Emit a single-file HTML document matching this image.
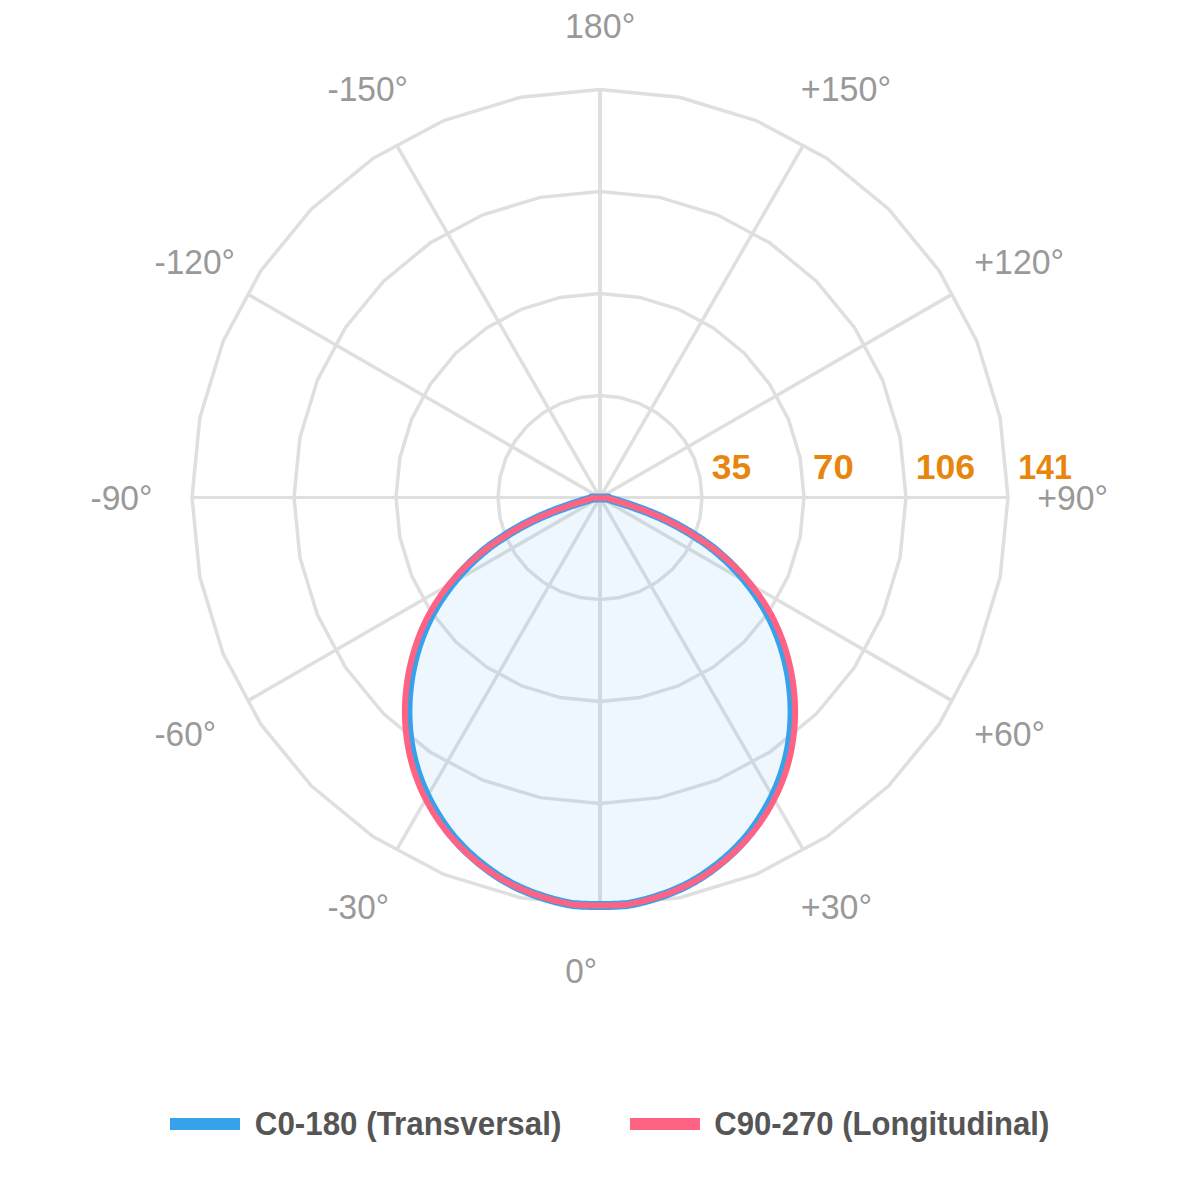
<!DOCTYPE html>
<html><head><meta charset="utf-8"><title>Polar diagram</title>
<style>
html,body{margin:0;padding:0;background:#ffffff;}
body{width:1200px;height:1200px;overflow:hidden;font-family:"Liberation Sans",sans-serif;}
svg{display:block;font-family:"Liberation Sans",sans-serif;}
</style></head><body>
<svg width="1200" height="1200" viewBox="0 0 1200 1200">
<rect width="1200" height="1200" fill="#ffffff"/>
<polygon points="600.00,599.50 619.90,597.54 639.03,591.74 656.67,582.31 672.12,569.62 684.81,554.17 694.24,536.53 700.04,517.40 702.00,497.50 700.04,477.60 694.24,458.47 684.81,440.83 672.12,425.38 656.67,412.69 639.03,403.26 619.90,397.46 600.00,395.50 580.10,397.46 560.97,403.26 543.33,412.69 527.88,425.38 515.19,440.83 505.76,458.47 499.96,477.60 498.00,497.50 499.96,517.40 505.76,536.53 515.19,554.17 527.88,569.62 543.33,582.31 560.97,591.74 580.10,597.54" fill="none" stroke="#dfdfdf" stroke-width="3.5" stroke-linejoin="miter"/>
<polygon points="600.00,701.50 639.80,697.58 678.07,685.97 713.34,667.12 744.25,641.75 769.62,610.84 788.47,575.57 800.08,537.30 804.00,497.50 800.08,457.70 788.47,419.43 769.62,384.16 744.25,353.25 713.34,327.88 678.07,309.03 639.80,297.42 600.00,293.50 560.20,297.42 521.93,309.03 486.66,327.88 455.75,353.25 430.38,384.16 411.53,419.43 399.92,457.70 396.00,497.50 399.92,537.30 411.53,575.57 430.38,610.84 455.75,641.75 486.66,667.12 521.93,685.97 560.20,697.58" fill="none" stroke="#dfdfdf" stroke-width="3.5" stroke-linejoin="miter"/>
<polygon points="600.00,803.50 659.70,797.62 717.10,780.21 770.00,751.93 816.37,713.87 854.43,667.50 882.71,614.60 900.12,557.20 906.00,497.50 900.12,437.80 882.71,380.40 854.43,327.50 816.37,281.13 770.00,243.07 717.10,214.79 659.70,197.38 600.00,191.50 540.30,197.38 482.90,214.79 430.00,243.07 383.63,281.13 345.57,327.50 317.29,380.40 299.88,437.80 294.00,497.50 299.88,557.20 317.29,614.60 345.57,667.50 383.63,713.87 430.00,751.93 482.90,780.21 540.30,797.62" fill="none" stroke="#dfdfdf" stroke-width="3.5" stroke-linejoin="miter"/>
<polygon points="600.00,905.50 679.60,897.66 756.13,874.44 826.67,836.74 888.50,786.00 939.24,724.17 976.94,653.63 1000.16,577.10 1008.00,497.50 1000.16,417.90 976.94,341.37 939.24,270.83 888.50,209.00 826.67,158.26 756.13,120.56 679.60,97.34 600.00,89.50 520.40,97.34 443.87,120.56 373.33,158.26 311.50,209.00 260.76,270.83 223.06,341.37 199.84,417.90 192.00,497.50 199.84,577.10 223.06,653.63 260.76,724.17 311.50,786.00 373.33,836.74 443.87,874.44 520.40,897.66" fill="none" stroke="#dfdfdf" stroke-width="3.5" stroke-linejoin="miter"/>
<line x1="600.0" y1="497.5" x2="600.00" y2="905.50" stroke="#dfdfdf" stroke-width="4"/>
<line x1="600.0" y1="497.5" x2="803.13" y2="849.33" stroke="#dfdfdf" stroke-width="3.5"/>
<line x1="600.0" y1="497.5" x2="951.83" y2="700.63" stroke="#dfdfdf" stroke-width="3.5"/>
<line x1="600.0" y1="497.5" x2="1008.00" y2="497.50" stroke="#dfdfdf" stroke-width="3"/>
<line x1="600.0" y1="497.5" x2="951.83" y2="294.37" stroke="#dfdfdf" stroke-width="3.5"/>
<line x1="600.0" y1="497.5" x2="803.13" y2="145.67" stroke="#dfdfdf" stroke-width="3.5"/>
<line x1="600.0" y1="497.5" x2="600.00" y2="89.50" stroke="#dfdfdf" stroke-width="4"/>
<line x1="600.0" y1="497.5" x2="396.87" y2="145.67" stroke="#dfdfdf" stroke-width="3.5"/>
<line x1="600.0" y1="497.5" x2="248.17" y2="294.37" stroke="#dfdfdf" stroke-width="3.5"/>
<line x1="600.0" y1="497.5" x2="192.00" y2="497.50" stroke="#dfdfdf" stroke-width="3"/>
<line x1="600.0" y1="497.5" x2="248.17" y2="700.63" stroke="#dfdfdf" stroke-width="3.5"/>
<line x1="600.0" y1="497.5" x2="396.87" y2="849.33" stroke="#dfdfdf" stroke-width="3.5"/>
<path d="M600.00,905.44 L599.72,905.45 L597.50,905.49 L595.28,905.50 L593.06,905.49 L590.84,905.46 L588.62,905.41 L586.39,905.33 L584.17,905.23 L581.94,905.13 L579.72,905.00 L577.49,904.85 L575.27,904.66 L573.05,904.43 L570.83,904.15 L568.63,903.80 L566.44,903.38 L564.25,902.92 L562.08,902.42 L559.91,901.89 L557.75,901.35 L555.59,900.80 L553.44,900.23 L551.29,899.63 L549.16,899.00 L547.03,898.36 L544.91,897.69 L542.79,897.02 L540.68,896.32 L538.57,895.62 L536.47,894.90 L534.38,894.17 L532.30,893.40 L530.22,892.62 L528.16,891.80 L526.11,890.96 L524.07,890.10 L522.04,889.21 L520.02,888.30 L518.01,887.36 L516.02,886.40 L514.04,885.41 L512.07,884.41 L510.11,883.38 L508.16,882.32 L506.23,881.25 L504.32,880.15 L502.41,879.02 L500.53,877.88 L498.65,876.70 L496.80,875.51 L494.96,874.29 L493.13,873.05 L491.32,871.78 L489.53,870.50 L487.75,869.20 L485.98,867.87 L484.23,866.53 L482.49,865.17 L480.77,863.80 L479.06,862.40 L477.37,860.99 L475.69,859.57 L474.02,858.13 L472.37,856.67 L470.73,855.20 L469.10,853.71 L467.50,852.20 L465.91,850.67 L464.33,849.13 L462.78,847.57 L461.24,845.99 L459.72,844.40 L458.22,842.78 L456.73,841.15 L455.27,839.50 L453.83,837.83 L452.42,836.14 L451.03,834.43 L449.67,832.71 L448.33,830.96 L447.01,829.20 L445.72,827.42 L444.44,825.62 L443.19,823.81 L441.96,821.99 L440.75,820.16 L439.56,818.31 L438.39,816.46 L437.23,814.59 L436.09,812.71 L434.97,810.83 L433.86,808.94 L432.77,807.04 L431.70,805.12 L430.66,803.20 L429.64,801.26 L428.63,799.31 L427.65,797.36 L426.70,795.39 L425.76,793.41 L424.85,791.42 L423.96,789.42 L423.09,787.42 L422.25,785.40 L421.42,783.37 L420.63,781.34 L419.85,779.29 L419.10,777.24 L418.38,775.18 L417.67,773.11 L417.00,771.03 L416.34,768.95 L415.72,766.85 L415.11,764.75 L414.53,762.65 L413.98,760.53 L413.45,758.41 L412.94,756.28 L412.46,754.15 L412.00,752.01 L411.57,749.87 L411.16,747.71 L410.78,745.56 L410.42,743.40 L410.08,741.23 L409.77,739.06 L409.49,736.89 L409.22,734.71 L408.99,732.53 L408.77,730.35 L408.59,728.16 L408.42,725.97 L408.28,723.78 L408.16,721.58 L408.07,719.39 L408.00,717.19 L407.95,714.99 L407.93,712.80 L407.93,710.60 L407.96,708.40 L408.00,706.20 L408.08,704.00 L408.17,701.80 L408.29,699.60 L408.42,697.41 L408.59,695.21 L408.77,693.02 L408.98,690.82 L409.21,688.63 L409.46,686.45 L409.73,684.26 L410.03,682.08 L410.35,679.90 L410.69,677.73 L411.06,675.56 L411.44,673.39 L411.86,671.23 L412.29,669.07 L412.74,666.92 L413.22,664.77 L413.71,662.63 L414.23,660.49 L414.77,658.36 L415.33,656.23 L415.91,654.11 L416.51,652.00 L417.14,649.89 L417.78,647.79 L418.45,645.70 L419.14,643.62 L419.85,641.54 L420.59,639.47 L421.34,637.41 L422.12,635.36 L422.92,633.32 L423.74,631.29 L424.58,629.27 L425.44,627.25 L426.33,625.25 L427.24,623.26 L428.18,621.28 L429.13,619.32 L430.11,617.36 L431.11,615.42 L432.14,613.49 L433.19,611.57 L434.26,609.67 L435.35,607.78 L436.47,605.90 L437.60,604.03 L438.76,602.18 L439.94,600.34 L441.13,598.51 L442.35,596.70 L443.59,594.90 L444.85,593.11 L446.12,591.33 L447.42,589.57 L448.73,587.81 L450.06,586.07 L451.40,584.34 L452.77,582.63 L454.15,580.92 L455.55,579.23 L456.96,577.55 L458.39,575.88 L459.84,574.23 L461.31,572.59 L462.79,570.96 L464.29,569.35 L465.82,567.76 L467.36,566.18 L468.93,564.63 L470.51,563.08 L472.10,561.55 L473.70,560.03 L475.32,558.52 L476.95,557.03 L478.60,555.55 L480.27,554.08 L481.95,552.64 L483.65,551.21 L485.37,549.80 L487.10,548.42 L488.86,547.06 L490.64,545.72 L492.44,544.42 L494.26,543.13 L496.09,541.87 L497.92,540.61 L499.77,539.37 L501.62,538.14 L503.49,536.92 L505.36,535.71 L507.24,534.52 L509.13,533.34 L511.03,532.18 L512.94,531.03 L514.86,529.90 L516.79,528.79 L518.73,527.69 L520.68,526.61 L522.64,525.55 L524.61,524.50 L526.58,523.47 L528.57,522.46 L530.56,521.46 L532.56,520.48 L534.57,519.51 L536.58,518.57 L538.60,517.64 L540.63,516.73 L542.67,515.83 L544.71,514.95 L546.76,514.09 L548.82,513.24 L550.88,512.41 L552.94,511.60 L555.02,510.79 L557.09,510.01 L559.17,509.23 L561.25,508.47 L563.34,507.72 L565.43,506.98 L567.52,506.25 L569.62,505.53 L571.72,504.82 L573.82,504.12 L575.92,503.43 L578.02,502.75 L580.12,502.07 L582.23,501.40 L584.33,500.74 L586.43,500.09 L588.54,499.43 L590.64,498.79 L591.60,498.00 L600.00,498.00 L608.40,498.00 L609.36,498.79 L611.46,499.43 L613.57,500.09 L615.67,500.74 L617.77,501.40 L619.88,502.07 L621.98,502.75 L624.08,503.43 L626.18,504.12 L628.28,504.82 L630.38,505.53 L632.48,506.25 L634.57,506.98 L636.66,507.72 L638.75,508.47 L640.83,509.23 L642.91,510.01 L644.98,510.79 L647.06,511.60 L649.12,512.41 L651.18,513.24 L653.24,514.09 L655.29,514.95 L657.33,515.83 L659.37,516.73 L661.40,517.64 L663.42,518.57 L665.43,519.51 L667.44,520.48 L669.44,521.46 L671.43,522.46 L673.42,523.47 L675.39,524.50 L677.36,525.55 L679.32,526.61 L681.27,527.69 L683.21,528.79 L685.14,529.90 L687.06,531.03 L688.97,532.18 L690.87,533.34 L692.76,534.52 L694.64,535.71 L696.51,536.92 L698.38,538.14 L700.23,539.37 L702.08,540.61 L703.91,541.87 L705.74,543.13 L707.56,544.42 L709.36,545.72 L711.14,547.06 L712.90,548.42 L714.63,549.80 L716.35,551.21 L718.05,552.64 L719.73,554.08 L721.40,555.55 L723.05,557.03 L724.68,558.52 L726.30,560.03 L727.90,561.55 L729.49,563.08 L731.07,564.63 L732.64,566.18 L734.18,567.76 L735.71,569.35 L737.21,570.96 L738.69,572.59 L740.16,574.23 L741.61,575.88 L743.04,577.55 L744.45,579.23 L745.85,580.92 L747.23,582.63 L748.60,584.34 L749.94,586.07 L751.27,587.81 L752.58,589.57 L753.88,591.33 L755.15,593.11 L756.41,594.90 L757.65,596.70 L758.87,598.51 L760.06,600.34 L761.24,602.18 L762.40,604.03 L763.53,605.90 L764.65,607.78 L765.74,609.67 L766.81,611.57 L767.86,613.49 L768.89,615.42 L769.89,617.36 L770.87,619.32 L771.82,621.28 L772.76,623.26 L773.67,625.25 L774.56,627.25 L775.42,629.27 L776.26,631.29 L777.08,633.32 L777.88,635.36 L778.66,637.41 L779.41,639.47 L780.15,641.54 L780.86,643.62 L781.55,645.70 L782.22,647.79 L782.86,649.89 L783.49,652.00 L784.09,654.11 L784.67,656.23 L785.23,658.36 L785.77,660.49 L786.29,662.63 L786.78,664.77 L787.26,666.92 L787.71,669.07 L788.14,671.23 L788.56,673.39 L788.94,675.56 L789.31,677.73 L789.65,679.90 L789.97,682.08 L790.27,684.26 L790.54,686.45 L790.79,688.63 L791.02,690.82 L791.23,693.02 L791.41,695.21 L791.58,697.41 L791.71,699.60 L791.83,701.80 L791.92,704.00 L792.00,706.20 L792.04,708.40 L792.07,710.60 L792.07,712.80 L792.05,714.99 L792.00,717.19 L791.93,719.39 L791.84,721.58 L791.72,723.78 L791.58,725.97 L791.41,728.16 L791.23,730.35 L791.01,732.53 L790.78,734.71 L790.51,736.89 L790.23,739.06 L789.92,741.23 L789.58,743.40 L789.22,745.56 L788.84,747.71 L788.43,749.87 L788.00,752.01 L787.54,754.15 L787.06,756.28 L786.55,758.41 L786.02,760.53 L785.47,762.65 L784.89,764.75 L784.28,766.85 L783.66,768.95 L783.00,771.03 L782.33,773.11 L781.62,775.18 L780.90,777.24 L780.15,779.29 L779.37,781.34 L778.58,783.37 L777.75,785.40 L776.91,787.42 L776.04,789.42 L775.15,791.42 L774.24,793.41 L773.30,795.39 L772.35,797.36 L771.37,799.31 L770.36,801.26 L769.34,803.20 L768.30,805.12 L767.23,807.04 L766.14,808.94 L765.03,810.83 L763.91,812.71 L762.77,814.59 L761.61,816.46 L760.44,818.31 L759.25,820.16 L758.04,821.99 L756.81,823.81 L755.56,825.62 L754.28,827.42 L752.99,829.20 L751.67,830.96 L750.33,832.71 L748.97,834.43 L747.58,836.14 L746.17,837.83 L744.73,839.50 L743.27,841.15 L741.78,842.78 L740.28,844.40 L738.76,845.99 L737.22,847.57 L735.67,849.13 L734.09,850.67 L732.50,852.20 L730.90,853.71 L729.27,855.20 L727.63,856.67 L725.98,858.13 L724.31,859.57 L722.63,860.99 L720.94,862.40 L719.23,863.80 L717.51,865.17 L715.77,866.53 L714.02,867.87 L712.25,869.20 L710.47,870.50 L708.68,871.78 L706.87,873.05 L705.04,874.29 L703.20,875.51 L701.35,876.70 L699.47,877.88 L697.59,879.02 L695.68,880.15 L693.77,881.25 L691.84,882.32 L689.89,883.38 L687.93,884.41 L685.96,885.41 L683.98,886.40 L681.99,887.36 L679.98,888.30 L677.96,889.21 L675.93,890.10 L673.89,890.96 L671.84,891.80 L669.78,892.62 L667.70,893.40 L665.62,894.17 L663.53,894.90 L661.43,895.62 L659.32,896.32 L657.21,897.02 L655.09,897.69 L652.97,898.36 L650.84,899.00 L648.71,899.63 L646.56,900.23 L644.41,900.80 L642.25,901.35 L640.09,901.89 L637.92,902.42 L635.75,902.92 L633.56,903.38 L631.37,903.80 L629.17,904.15 L626.95,904.43 L624.73,904.66 L622.51,904.85 L620.28,905.00 L618.06,905.13 L615.83,905.23 L613.61,905.33 L611.38,905.41 L609.16,905.46 L606.94,905.49 L604.72,905.50 L602.50,905.49 L600.28,905.45 Z" fill="rgba(54,162,235,0.085)" stroke="none"/>
<path d="M600.00,905.44 L599.72,905.45 L597.50,905.49 L595.28,905.50 L593.06,905.49 L590.84,905.46 L588.62,905.41 L586.39,905.33 L584.17,905.23 L581.94,905.13 L579.72,905.00 L577.49,904.85 L575.27,904.66 L573.05,904.43 L570.83,904.15 L568.63,903.80 L566.44,903.38 L564.25,902.92 L562.08,902.42 L559.91,901.89 L557.75,901.35 L555.59,900.80 L553.44,900.23 L551.29,899.63 L549.16,899.00 L547.03,898.36 L544.91,897.69 L542.79,897.02 L540.68,896.32 L538.57,895.62 L536.47,894.90 L534.38,894.17 L532.30,893.40 L530.22,892.62 L528.16,891.80 L526.11,890.96 L524.07,890.10 L522.04,889.21 L520.02,888.30 L518.01,887.36 L516.02,886.40 L514.04,885.41 L512.07,884.41 L510.11,883.38 L508.16,882.32 L506.23,881.25 L504.32,880.15 L502.41,879.02 L500.53,877.88 L498.65,876.70 L496.80,875.51 L494.96,874.29 L493.13,873.05 L491.32,871.78 L489.53,870.50 L487.75,869.20 L485.98,867.87 L484.23,866.53 L482.49,865.17 L480.77,863.80 L479.06,862.40 L477.37,860.99 L475.69,859.57 L474.02,858.13 L472.37,856.67 L470.73,855.20 L469.10,853.71 L467.50,852.20 L465.91,850.67 L464.33,849.13 L462.78,847.57 L461.24,845.99 L459.72,844.40 L458.22,842.78 L456.73,841.15 L455.27,839.50 L453.83,837.83 L452.42,836.14 L451.03,834.43 L449.67,832.71 L448.33,830.96 L447.01,829.20 L445.72,827.42 L444.44,825.62 L443.19,823.81 L441.96,821.99 L440.75,820.16 L439.56,818.31 L438.39,816.46 L437.23,814.59 L436.09,812.71 L434.97,810.83 L433.86,808.94 L432.77,807.04 L431.70,805.12 L430.66,803.20 L429.64,801.26 L428.63,799.31 L427.65,797.36 L426.70,795.39 L425.76,793.41 L424.85,791.42 L423.96,789.42 L423.09,787.42 L422.25,785.40 L421.42,783.37 L420.63,781.34 L419.85,779.29 L419.10,777.24 L418.38,775.18 L417.67,773.11 L417.00,771.03 L416.34,768.95 L415.72,766.85 L415.11,764.75 L414.53,762.65 L413.98,760.53 L413.45,758.41 L412.94,756.28 L412.46,754.15 L412.00,752.01 L411.57,749.87 L411.16,747.71 L410.78,745.56 L410.42,743.40 L410.08,741.23 L409.77,739.06 L409.49,736.89 L409.22,734.71 L408.99,732.53 L408.77,730.35 L408.59,728.16 L408.42,725.97 L408.28,723.78 L408.16,721.58 L408.07,719.39 L408.00,717.19 L407.95,714.99 L407.93,712.80 L407.93,710.60 L407.96,708.40 L408.00,706.20 L408.08,704.00 L408.17,701.80 L408.29,699.60 L408.42,697.41 L408.59,695.21 L408.77,693.02 L408.98,690.82 L409.21,688.63 L409.46,686.45 L409.73,684.26 L410.03,682.08 L410.35,679.90 L410.69,677.73 L411.06,675.56 L411.44,673.39 L411.86,671.23 L412.29,669.07 L412.74,666.92 L413.22,664.77 L413.71,662.63 L414.23,660.49 L414.77,658.36 L415.33,656.23 L415.91,654.11 L416.51,652.00 L417.14,649.89 L417.78,647.79 L418.45,645.70 L419.14,643.62 L419.85,641.54 L420.59,639.47 L421.34,637.41 L422.12,635.36 L422.92,633.32 L423.74,631.29 L424.58,629.27 L425.44,627.25 L426.33,625.25 L427.24,623.26 L428.18,621.28 L429.13,619.32 L430.11,617.36 L431.11,615.42 L432.14,613.49 L433.19,611.57 L434.26,609.67 L435.35,607.78 L436.47,605.90 L437.60,604.03 L438.76,602.18 L439.94,600.34 L441.13,598.51 L442.35,596.70 L443.59,594.90 L444.85,593.11 L446.12,591.33 L447.42,589.57 L448.73,587.81 L450.06,586.07 L451.40,584.34 L452.77,582.63 L454.15,580.92 L455.55,579.23 L456.96,577.55 L458.39,575.88 L459.84,574.23 L461.31,572.59 L462.79,570.96 L464.29,569.35 L465.82,567.76 L467.36,566.18 L468.93,564.63 L470.51,563.08 L472.10,561.55 L473.70,560.03 L475.32,558.52 L476.95,557.03 L478.60,555.55 L480.27,554.08 L481.95,552.64 L483.65,551.21 L485.37,549.80 L487.10,548.42 L488.86,547.06 L490.64,545.72 L492.44,544.42 L494.26,543.13 L496.09,541.87 L497.92,540.61 L499.77,539.37 L501.62,538.14 L503.49,536.92 L505.36,535.71 L507.24,534.52 L509.13,533.34 L511.03,532.18 L512.94,531.03 L514.86,529.90 L516.79,528.79 L518.73,527.69 L520.68,526.61 L522.64,525.55 L524.61,524.50 L526.58,523.47 L528.57,522.46 L530.56,521.46 L532.56,520.48 L534.57,519.51 L536.58,518.57 L538.60,517.64 L540.63,516.73 L542.67,515.83 L544.71,514.95 L546.76,514.09 L548.82,513.24 L550.88,512.41 L552.94,511.60 L555.02,510.79 L557.09,510.01 L559.17,509.23 L561.25,508.47 L563.34,507.72 L565.43,506.98 L567.52,506.25 L569.62,505.53 L571.72,504.82 L573.82,504.12 L575.92,503.43 L578.02,502.75 L580.12,502.07 L582.23,501.40 L584.33,500.74 L586.43,500.09 L588.54,499.43 L590.64,498.79 L591.60,498.00 L600.00,498.00 L608.40,498.00 L609.36,498.79 L611.46,499.43 L613.57,500.09 L615.67,500.74 L617.77,501.40 L619.88,502.07 L621.98,502.75 L624.08,503.43 L626.18,504.12 L628.28,504.82 L630.38,505.53 L632.48,506.25 L634.57,506.98 L636.66,507.72 L638.75,508.47 L640.83,509.23 L642.91,510.01 L644.98,510.79 L647.06,511.60 L649.12,512.41 L651.18,513.24 L653.24,514.09 L655.29,514.95 L657.33,515.83 L659.37,516.73 L661.40,517.64 L663.42,518.57 L665.43,519.51 L667.44,520.48 L669.44,521.46 L671.43,522.46 L673.42,523.47 L675.39,524.50 L677.36,525.55 L679.32,526.61 L681.27,527.69 L683.21,528.79 L685.14,529.90 L687.06,531.03 L688.97,532.18 L690.87,533.34 L692.76,534.52 L694.64,535.71 L696.51,536.92 L698.38,538.14 L700.23,539.37 L702.08,540.61 L703.91,541.87 L705.74,543.13 L707.56,544.42 L709.36,545.72 L711.14,547.06 L712.90,548.42 L714.63,549.80 L716.35,551.21 L718.05,552.64 L719.73,554.08 L721.40,555.55 L723.05,557.03 L724.68,558.52 L726.30,560.03 L727.90,561.55 L729.49,563.08 L731.07,564.63 L732.64,566.18 L734.18,567.76 L735.71,569.35 L737.21,570.96 L738.69,572.59 L740.16,574.23 L741.61,575.88 L743.04,577.55 L744.45,579.23 L745.85,580.92 L747.23,582.63 L748.60,584.34 L749.94,586.07 L751.27,587.81 L752.58,589.57 L753.88,591.33 L755.15,593.11 L756.41,594.90 L757.65,596.70 L758.87,598.51 L760.06,600.34 L761.24,602.18 L762.40,604.03 L763.53,605.90 L764.65,607.78 L765.74,609.67 L766.81,611.57 L767.86,613.49 L768.89,615.42 L769.89,617.36 L770.87,619.32 L771.82,621.28 L772.76,623.26 L773.67,625.25 L774.56,627.25 L775.42,629.27 L776.26,631.29 L777.08,633.32 L777.88,635.36 L778.66,637.41 L779.41,639.47 L780.15,641.54 L780.86,643.62 L781.55,645.70 L782.22,647.79 L782.86,649.89 L783.49,652.00 L784.09,654.11 L784.67,656.23 L785.23,658.36 L785.77,660.49 L786.29,662.63 L786.78,664.77 L787.26,666.92 L787.71,669.07 L788.14,671.23 L788.56,673.39 L788.94,675.56 L789.31,677.73 L789.65,679.90 L789.97,682.08 L790.27,684.26 L790.54,686.45 L790.79,688.63 L791.02,690.82 L791.23,693.02 L791.41,695.21 L791.58,697.41 L791.71,699.60 L791.83,701.80 L791.92,704.00 L792.00,706.20 L792.04,708.40 L792.07,710.60 L792.07,712.80 L792.05,714.99 L792.00,717.19 L791.93,719.39 L791.84,721.58 L791.72,723.78 L791.58,725.97 L791.41,728.16 L791.23,730.35 L791.01,732.53 L790.78,734.71 L790.51,736.89 L790.23,739.06 L789.92,741.23 L789.58,743.40 L789.22,745.56 L788.84,747.71 L788.43,749.87 L788.00,752.01 L787.54,754.15 L787.06,756.28 L786.55,758.41 L786.02,760.53 L785.47,762.65 L784.89,764.75 L784.28,766.85 L783.66,768.95 L783.00,771.03 L782.33,773.11 L781.62,775.18 L780.90,777.24 L780.15,779.29 L779.37,781.34 L778.58,783.37 L777.75,785.40 L776.91,787.42 L776.04,789.42 L775.15,791.42 L774.24,793.41 L773.30,795.39 L772.35,797.36 L771.37,799.31 L770.36,801.26 L769.34,803.20 L768.30,805.12 L767.23,807.04 L766.14,808.94 L765.03,810.83 L763.91,812.71 L762.77,814.59 L761.61,816.46 L760.44,818.31 L759.25,820.16 L758.04,821.99 L756.81,823.81 L755.56,825.62 L754.28,827.42 L752.99,829.20 L751.67,830.96 L750.33,832.71 L748.97,834.43 L747.58,836.14 L746.17,837.83 L744.73,839.50 L743.27,841.15 L741.78,842.78 L740.28,844.40 L738.76,845.99 L737.22,847.57 L735.67,849.13 L734.09,850.67 L732.50,852.20 L730.90,853.71 L729.27,855.20 L727.63,856.67 L725.98,858.13 L724.31,859.57 L722.63,860.99 L720.94,862.40 L719.23,863.80 L717.51,865.17 L715.77,866.53 L714.02,867.87 L712.25,869.20 L710.47,870.50 L708.68,871.78 L706.87,873.05 L705.04,874.29 L703.20,875.51 L701.35,876.70 L699.47,877.88 L697.59,879.02 L695.68,880.15 L693.77,881.25 L691.84,882.32 L689.89,883.38 L687.93,884.41 L685.96,885.41 L683.98,886.40 L681.99,887.36 L679.98,888.30 L677.96,889.21 L675.93,890.10 L673.89,890.96 L671.84,891.80 L669.78,892.62 L667.70,893.40 L665.62,894.17 L663.53,894.90 L661.43,895.62 L659.32,896.32 L657.21,897.02 L655.09,897.69 L652.97,898.36 L650.84,899.00 L648.71,899.63 L646.56,900.23 L644.41,900.80 L642.25,901.35 L640.09,901.89 L637.92,902.42 L635.75,902.92 L633.56,903.38 L631.37,903.80 L629.17,904.15 L626.95,904.43 L624.73,904.66 L622.51,904.85 L620.28,905.00 L618.06,905.13 L615.83,905.23 L613.61,905.33 L611.38,905.41 L609.16,905.46 L606.94,905.49 L604.72,905.50 L602.50,905.49 L600.28,905.45 Z" fill="none" stroke="#36a2eb" stroke-width="9" stroke-linejoin="round"/>
<path d="M600.00,905.44 L599.72,905.45 L597.50,905.49 L595.28,905.50 L593.06,905.49 L590.84,905.46 L588.62,905.41 L586.39,905.33 L584.17,905.23 L581.94,905.13 L579.72,905.00 L577.49,904.85 L575.27,904.66 L573.05,904.43 L570.83,904.15 L568.63,903.80 L566.44,903.38 L564.25,902.92 L562.08,902.42 L559.91,901.89 L557.75,901.35 L555.59,900.80 L553.44,900.23 L551.29,899.63 L549.16,899.00 L547.03,898.36 L544.91,897.69 L542.79,897.02 L540.68,896.33 L538.57,895.63 L536.47,894.92 L534.37,894.20 L532.28,893.45 L530.20,892.68 L528.13,891.88 L526.07,891.06 L524.02,890.22 L521.98,889.35 L519.95,888.46 L517.93,887.55 L515.92,886.61 L513.92,885.65 L511.93,884.67 L509.96,883.66 L508.00,882.63 L506.05,881.58 L504.12,880.50 L502.19,879.40 L500.29,878.28 L498.39,877.14 L496.51,875.97 L494.64,874.78 L492.78,873.57 L490.94,872.34 L489.12,871.09 L487.31,869.81 L485.51,868.52 L483.73,867.20 L481.96,865.87 L480.21,864.51 L478.47,863.14 L476.75,861.75 L475.04,860.34 L473.35,858.91 L471.67,857.47 L470.00,856.00 L468.35,854.52 L466.72,853.03 L465.10,851.51 L463.49,849.98 L461.91,848.43 L460.33,846.87 L458.78,845.29 L457.24,843.69 L455.73,842.07 L454.23,840.43 L452.74,838.78 L451.28,837.12 L449.83,835.43 L448.41,833.73 L447.00,832.01 L445.61,830.28 L444.25,828.53 L442.90,826.76 L441.58,824.98 L440.28,823.18 L439.00,821.37 L437.74,819.54 L436.50,817.69 L435.29,815.83 L434.10,813.96 L432.93,812.08 L431.78,810.18 L430.65,808.27 L429.54,806.34 L428.46,804.41 L427.40,802.46 L426.36,800.50 L425.34,798.52 L424.35,796.54 L423.38,794.54 L422.44,792.54 L421.51,790.52 L420.61,788.49 L419.74,786.45 L418.89,784.40 L418.06,782.35 L417.26,780.28 L416.48,778.20 L415.73,776.11 L415.00,774.02 L414.30,771.91 L413.63,769.80 L412.98,767.67 L412.35,765.54 L411.75,763.41 L411.18,761.26 L410.63,759.11 L410.11,756.95 L409.62,754.78 L409.15,752.61 L408.70,750.44 L408.28,748.25 L407.88,746.06 L407.51,743.87 L407.17,741.67 L406.85,739.47 L406.55,737.26 L406.28,735.05 L406.04,732.84 L405.81,730.62 L405.62,728.40 L405.45,726.18 L405.30,723.96 L405.18,721.73 L405.08,719.50 L405.01,717.27 L404.96,715.04 L404.93,712.81 L404.93,710.58 L404.96,708.35 L405.01,706.12 L405.08,703.88 L405.18,701.65 L405.30,699.42 L405.44,697.20 L405.61,694.97 L405.80,692.74 L406.02,690.52 L406.26,688.30 L406.52,686.08 L406.81,683.87 L407.12,681.66 L407.46,679.45 L407.82,677.24 L408.20,675.05 L408.61,672.85 L409.04,670.66 L409.49,668.48 L409.97,666.30 L410.46,664.12 L410.98,661.95 L411.52,659.79 L412.08,657.63 L412.66,655.48 L413.27,653.34 L413.89,651.20 L414.54,649.07 L415.21,646.95 L415.91,644.83 L416.62,642.73 L417.36,640.63 L418.12,638.54 L418.91,636.46 L419.71,634.39 L420.54,632.33 L421.40,630.28 L422.27,628.24 L423.17,626.21 L424.10,624.20 L425.04,622.19 L426.01,620.20 L427.01,618.22 L428.03,616.26 L429.07,614.31 L430.13,612.37 L431.22,610.44 L432.34,608.53 L433.47,606.64 L434.63,604.75 L435.80,602.89 L437.00,601.03 L438.22,599.19 L439.46,597.36 L440.72,595.55 L442.00,593.75 L443.30,591.97 L444.62,590.20 L445.96,588.45 L447.32,586.70 L448.69,584.98 L450.09,583.27 L451.50,581.57 L452.93,579.88 L454.38,578.22 L455.85,576.56 L457.34,574.92 L458.84,573.30 L460.36,571.69 L461.89,570.10 L463.45,568.52 L465.02,566.96 L466.62,565.42 L468.23,563.90 L469.87,562.40 L471.52,560.92 L473.18,559.45 L474.86,558.01 L476.56,556.58 L478.28,555.16 L480.00,553.77 L481.74,552.38 L483.50,551.02 L485.26,549.67 L487.04,548.33 L488.83,547.01 L490.63,545.71 L492.44,544.41 L494.26,543.13 L496.09,541.87 L497.92,540.61 L499.77,539.37 L501.62,538.14 L503.49,536.92 L505.36,535.71 L507.24,534.52 L509.13,533.34 L511.03,532.18 L512.94,531.03 L514.86,529.90 L516.79,528.79 L518.73,527.69 L520.68,526.61 L522.64,525.55 L524.61,524.50 L526.58,523.47 L528.57,522.46 L530.56,521.46 L532.56,520.48 L534.57,519.51 L536.58,518.57 L538.60,517.64 L540.63,516.73 L542.67,515.83 L544.71,514.95 L546.76,514.09 L548.82,513.24 L550.88,512.41 L552.94,511.60 L555.02,510.79 L557.09,510.01 L559.17,509.23 L561.25,508.47 L563.34,507.72 L565.43,506.98 L567.52,506.25 L569.62,505.53 L571.72,504.82 L573.82,504.12 L575.92,503.43 L578.02,502.75 L580.12,502.07 L582.23,501.40 L584.33,500.74 L586.43,500.09 L588.54,499.43 L590.64,498.79 L591.60,498.00 L600.00,498.00 L608.40,498.00 L609.36,498.79 L611.46,499.43 L613.57,500.09 L615.67,500.74 L617.77,501.40 L619.88,502.07 L621.98,502.75 L624.08,503.43 L626.18,504.12 L628.28,504.82 L630.38,505.53 L632.48,506.25 L634.57,506.98 L636.66,507.72 L638.75,508.47 L640.83,509.23 L642.91,510.01 L644.98,510.79 L647.06,511.60 L649.12,512.41 L651.18,513.24 L653.24,514.09 L655.29,514.95 L657.33,515.83 L659.37,516.73 L661.40,517.64 L663.42,518.57 L665.43,519.51 L667.44,520.48 L669.44,521.46 L671.43,522.46 L673.42,523.47 L675.39,524.50 L677.36,525.55 L679.32,526.61 L681.27,527.69 L683.21,528.79 L685.14,529.90 L687.06,531.03 L688.97,532.18 L690.87,533.34 L692.76,534.52 L694.64,535.71 L696.51,536.92 L698.38,538.14 L700.23,539.37 L702.08,540.61 L703.91,541.87 L705.74,543.13 L707.56,544.41 L709.37,545.71 L711.17,547.01 L712.96,548.33 L714.74,549.67 L716.50,551.02 L718.26,552.38 L720.00,553.77 L721.72,555.16 L723.44,556.58 L725.14,558.01 L726.82,559.45 L728.48,560.92 L730.13,562.40 L731.77,563.90 L733.38,565.42 L734.98,566.96 L736.55,568.52 L738.11,570.10 L739.64,571.69 L741.16,573.30 L742.66,574.92 L744.15,576.56 L745.62,578.22 L747.07,579.88 L748.50,581.57 L749.91,583.27 L751.31,584.98 L752.68,586.70 L754.04,588.45 L755.38,590.20 L756.70,591.97 L758.00,593.75 L759.28,595.55 L760.54,597.36 L761.78,599.19 L763.00,601.03 L764.20,602.89 L765.37,604.75 L766.53,606.64 L767.66,608.53 L768.78,610.44 L769.87,612.37 L770.93,614.31 L771.97,616.26 L772.99,618.22 L773.99,620.20 L774.96,622.19 L775.90,624.20 L776.83,626.21 L777.73,628.24 L778.60,630.28 L779.46,632.33 L780.29,634.39 L781.09,636.46 L781.88,638.54 L782.64,640.63 L783.38,642.73 L784.09,644.83 L784.79,646.95 L785.46,649.07 L786.11,651.20 L786.73,653.34 L787.34,655.48 L787.92,657.63 L788.48,659.79 L789.02,661.95 L789.54,664.12 L790.03,666.30 L790.51,668.48 L790.96,670.66 L791.39,672.85 L791.80,675.05 L792.18,677.24 L792.54,679.45 L792.88,681.66 L793.19,683.87 L793.48,686.08 L793.74,688.30 L793.98,690.52 L794.20,692.74 L794.39,694.97 L794.56,697.20 L794.70,699.42 L794.82,701.65 L794.92,703.88 L794.99,706.12 L795.04,708.35 L795.07,710.58 L795.07,712.81 L795.04,715.04 L794.99,717.27 L794.92,719.50 L794.82,721.73 L794.70,723.96 L794.55,726.18 L794.38,728.40 L794.19,730.62 L793.96,732.84 L793.72,735.05 L793.45,737.26 L793.15,739.47 L792.83,741.67 L792.49,743.87 L792.12,746.06 L791.72,748.25 L791.30,750.44 L790.85,752.61 L790.38,754.78 L789.89,756.95 L789.37,759.11 L788.82,761.26 L788.25,763.41 L787.65,765.54 L787.02,767.67 L786.37,769.80 L785.70,771.91 L785.00,774.02 L784.27,776.11 L783.52,778.20 L782.74,780.28 L781.94,782.35 L781.11,784.40 L780.26,786.45 L779.39,788.49 L778.49,790.52 L777.56,792.54 L776.62,794.54 L775.65,796.54 L774.66,798.52 L773.64,800.50 L772.60,802.46 L771.54,804.41 L770.46,806.34 L769.35,808.27 L768.22,810.18 L767.07,812.08 L765.90,813.96 L764.71,815.83 L763.50,817.69 L762.26,819.54 L761.00,821.37 L759.72,823.18 L758.42,824.98 L757.10,826.76 L755.75,828.53 L754.39,830.28 L753.00,832.01 L751.59,833.73 L750.17,835.43 L748.72,837.12 L747.26,838.78 L745.77,840.43 L744.27,842.07 L742.76,843.69 L741.22,845.29 L739.67,846.87 L738.09,848.43 L736.51,849.98 L734.90,851.51 L733.28,853.03 L731.65,854.52 L730.00,856.00 L728.33,857.47 L726.65,858.91 L724.96,860.34 L723.25,861.75 L721.53,863.14 L719.79,864.51 L718.04,865.87 L716.27,867.20 L714.49,868.52 L712.69,869.81 L710.88,871.09 L709.06,872.34 L707.22,873.57 L705.36,874.78 L703.49,875.97 L701.61,877.14 L699.71,878.28 L697.81,879.40 L695.88,880.50 L693.95,881.58 L692.00,882.63 L690.04,883.66 L688.07,884.67 L686.08,885.65 L684.08,886.61 L682.07,887.55 L680.05,888.46 L678.02,889.35 L675.98,890.22 L673.93,891.06 L671.87,891.88 L669.80,892.68 L667.72,893.45 L665.63,894.20 L663.53,894.92 L661.43,895.63 L659.32,896.33 L657.21,897.02 L655.09,897.69 L652.97,898.36 L650.84,899.00 L648.71,899.63 L646.56,900.23 L644.41,900.80 L642.25,901.35 L640.09,901.89 L637.92,902.42 L635.75,902.92 L633.56,903.38 L631.37,903.80 L629.17,904.15 L626.95,904.43 L624.73,904.66 L622.51,904.85 L620.28,905.00 L618.06,905.13 L615.83,905.23 L613.61,905.33 L611.38,905.41 L609.16,905.46 L606.94,905.49 L604.72,905.50 L602.50,905.49 L600.28,905.45 Z" fill="none" stroke="#ff6384" stroke-width="6" stroke-linejoin="round"/>
<text transform="translate(564.95,37.65) scale(0.9657,1)" font-size="35.21" fill="#999999">180°</text>
<text transform="translate(327.49,100.65) scale(0.9529,1)" font-size="35.21" fill="#999999">-150°</text>
<text transform="translate(800.80,100.65) scale(0.9672,1)" font-size="35.21" fill="#999999">+150°</text>
<text transform="translate(154.49,273.65) scale(0.9529,1)" font-size="35.21" fill="#999999">-120°</text>
<text transform="translate(974.31,273.65) scale(0.9616,1)" font-size="35.21" fill="#999999">+120°</text>
<text transform="translate(90.49,510.45) scale(0.9625,1)" font-size="34.93" fill="#999999">-90°</text>
<text transform="translate(1037.31,510.25) scale(0.9742,1)" font-size="34.65" fill="#999999">+90°</text>
<text transform="translate(154.50,746.25) scale(0.9621,1)" font-size="34.65" fill="#999999">-60°</text>
<text transform="translate(974.31,746.25) scale(0.9742,1)" font-size="34.65" fill="#999999">+60°</text>
<text transform="translate(327.50,919.25) scale(0.9621,1)" font-size="34.65" fill="#999999">-30°</text>
<text transform="translate(800.80,919.25) scale(0.9814,1)" font-size="34.65" fill="#999999">+30°</text>
<text transform="translate(565.17,983.15) scale(0.9467,1)" font-size="35.21" fill="#999999">0°</text>
<text transform="translate(711.87,479.39) scale(0.9850,1)" font-size="35.92" font-weight="bold" fill="#e8850c">35</text>
<text transform="translate(813.10,479.39) scale(1.0187,1)" font-size="35.92" font-weight="bold" fill="#e8850c">70</text>
<text transform="translate(915.68,479.39) scale(0.9927,1)" font-size="35.92" font-weight="bold" fill="#e8850c">106</text>
<text transform="translate(1018.21,479.40) scale(0.9088,1)" font-size="35.42" font-weight="bold" fill="#e8850c">141</text>
<text transform="translate(254.75,1135.46) scale(0.9354,1)" font-size="33.52" font-weight="bold" fill="#555555">C0-180 (Transversal)</text>
<text transform="translate(714.36,1135.46) scale(0.9276,1)" font-size="33.52" font-weight="bold" fill="#555555">C90-270 (Longitudinal)</text>
<rect x="170" y="1118" width="70" height="12" fill="#36a2eb"/>
<rect x="630" y="1118" width="70" height="12" fill="#ff6384"/>
</svg>
</body></html>
